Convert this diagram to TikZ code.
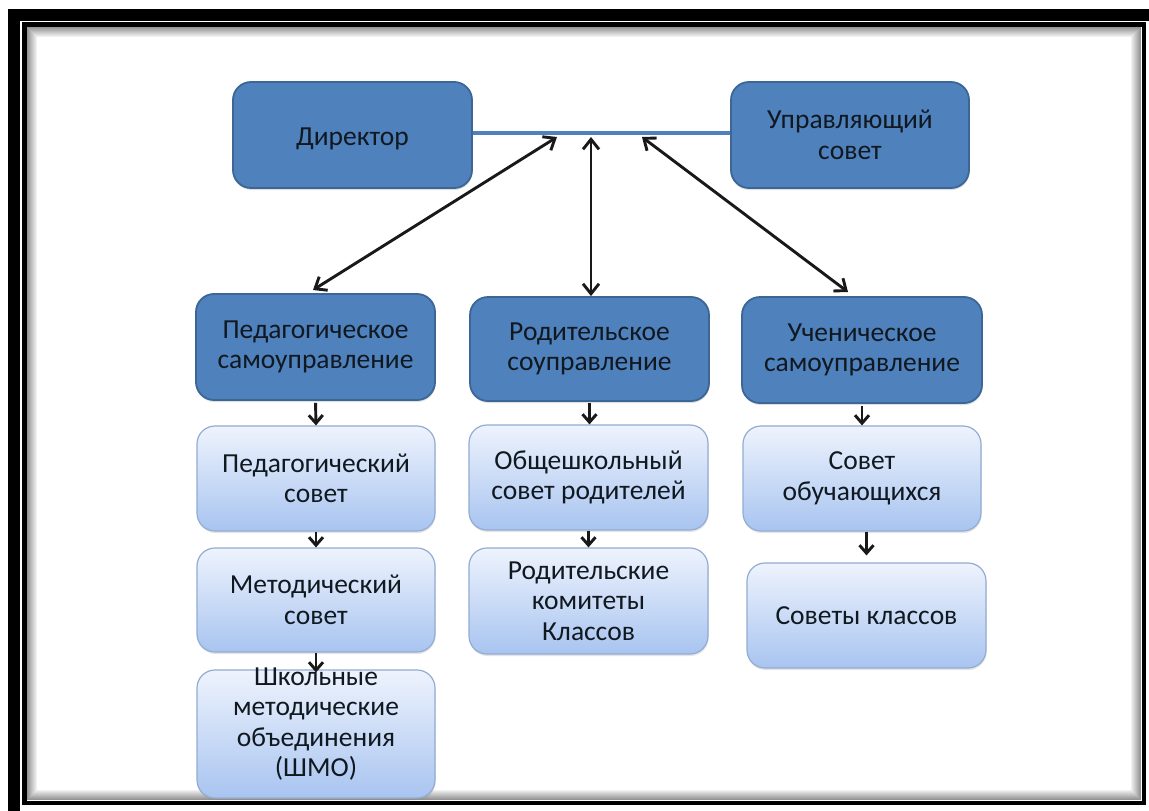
\documentclass[tikz,border=0pt]{standalone}
\usepackage{fontspec}
\setmainfont{Carlito}
\usetikzlibrary{arrows.meta,shadows}
\definecolor{darkfill}{HTML}{4F81BD}
\definecolor{darkline}{HTML}{3B6696}
\definecolor{lighttop}{HTML}{EEF3FD}
\definecolor{lightbot}{HTML}{A8C4F0}
\definecolor{lightline}{HTML}{93ACD2}
\definecolor{txtcol}{HTML}{101820}
\definecolor{linkblue}{HTML}{4F81BD}
\begin{document}
\begin{tikzpicture}[x=1pt,y=-1pt,
  box/.style={rectangle, rounded corners=18pt, minimum width=239pt, minimum height=106pt,
    inner sep=0pt, align=center, font=\fontsize{27.5}{30.5}\selectfont, text=txtcol},
  darkbox/.style={box, fill=darkfill, draw=darkline, line width=1.8pt,
    drop shadow={opacity=0.25, shadow xshift=0.5pt, shadow yshift=-2pt}},
  lightbox/.style={box, top color=lighttop, bottom color=lightbot, draw=lightline, line width=1.2pt,
    drop shadow={opacity=0.2, shadow xshift=0.5pt, shadow yshift=-2pt}},
  txt/.style={inner sep=0pt, align=center, font=\fontsize{27.5}{30.5}\selectfont, text=txtcol},
  dbl/.style={{Straight Barb[length=10pt,width=16pt]}-{Straight Barb[length=10pt,width=16pt]},
    line width=2.9pt, draw=black!90},
  down/.style={-{Straight Barb[length=8pt,width=14pt]}, line width=2.9pt, draw=black!90}
]
\useasboundingbox (0,0) rectangle (1149,811);
\clip (0,0) rectangle (1149,811);
\fill[white] (0,0) rectangle (1149,811);
% frame
\draw[line width=12pt] (14,14.5) rectangle (1220,900);
\foreach \i [evaluate=\i as \g using {int(42-4*\i)}] in {0,...,9}
  \draw[line width=1.2pt, black!\g] (27.5+\i,27.5+\i) rectangle (1140.5-\i,799.5-\i);
\draw[line width=4.5pt] (24.5,24.5) rectangle (1144,803);

% top row
\node[darkbox] (dir) at (352.5,135) {\smash{\raisebox{-10.5pt}{Директор}}};
\node[darkbox, minimum width=238pt] (upr) at (850,135) {Управляющий\\совет};
\draw[linkblue, line width=3.5pt] ([yshift=2pt]dir.east) -- ([yshift=2pt]upr.west);

% second row
\node[darkbox] (ped) at (315.5,347) {Педагогическое\\самоуправление};
\node[darkbox, minimum height=104pt] (rod) at (589.5,349) {Родительское\\соуправление};
\node[darkbox, minimum width=240pt] (uch) at (862,350) {Ученическое\\самоуправление};

% lower boxes
\node[lightbox, minimum width=238pt, minimum height=105pt] (pedsov) at (316,478.5) {Педагогический\\совет};
\node[lightbox, minimum width=238pt, minimum height=104pt] (metsov) at (316,600) {Методический\\совет};
\node[lightbox, minimum width=238pt, minimum height=128pt] (shmo) at (316,734) {};
\node[txt] (shmot) at (316,724) {Школьные\\методические\\объединения\\(ШМО)};
\node[lightbox, minimum height=105pt] (obsh) at (588.5,477.5) {Общешкольный\\совет родителей};
\node[lightbox, minimum height=106pt] (rodkom) at (588.5,601) {Родительские\\комитеты\\Классов};
\node[lightbox, minimum width=238pt, minimum height=105pt] (sovob) at (862,478.5) {Совет\\обучающихся};
\node[lightbox, minimum height=105pt] (sovkl) at (866.5,615.5) {Советы классов};

% double arrows
\coordinate (j1) at (557,137);
\coordinate (j2) at (591,137);
\coordinate (j3) at (642,137);
\coordinate (t1) at (313,290);
\coordinate (t3) at (848,292);
\draw[dbl] (j1) -- (t1);
\draw[dbl] (j2) -- (j2 |- rod.north);
\draw[dbl] (j3) -- (t3);

% small arrows
\draw[down, shorten <=2pt] (ped.south) -- (pedsov.north);
\draw[down] (pedsov.south) -- (metsov.north);
\draw[down, shorten >=-3pt] (metsov.south) -- (shmo.north);
\draw[down, shorten <=1pt] (rod.south) -- (rod.south |- obsh.north);
\draw[down] (obsh.south) -- (rodkom.north);
\draw[down, shorten <=2pt] (uch.south) -- (uch.south |- sovob.north);
\draw[down, shorten >=7pt] (sovkl.north |- sovob.south) -- (sovkl.north);
\end{tikzpicture}
\end{document}
